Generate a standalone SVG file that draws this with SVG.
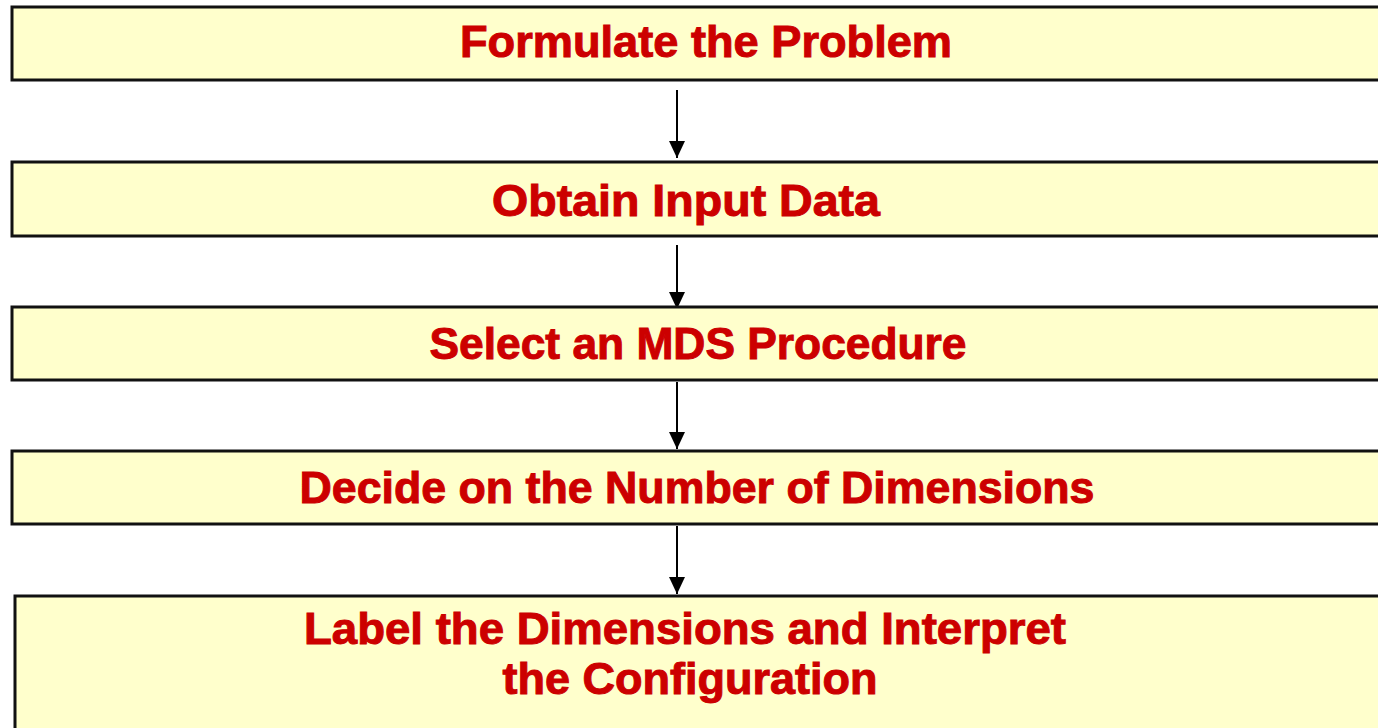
<svg xmlns="http://www.w3.org/2000/svg" width="1378" height="728" viewBox="0 0 1378 728">
  <style>
    .box { fill: #FFFFCC; stroke: #111111; stroke-width: 3; }
    .label { font-family: "Liberation Sans", Arial, sans-serif; font-weight: bold; font-size: 45px; fill: #CC0000; stroke: #CC0000; stroke-width: 1; text-anchor: middle; }
    .link { stroke: #000000; stroke-width: 2; fill: none; marker-end: url(#arrow); }
  </style>
  <defs>
    <marker id="arrow" markerUnits="userSpaceOnUse" viewBox="0 0 18 18" markerWidth="18" markerHeight="18" refX="17" refY="9" orient="auto">
      <path d="M0,1 L17,9 L0,17 Z" fill="#000000"/>
    </marker>
  </defs>
  <rect width="1378" height="728" fill="#FFFFFF"/>

  <g id="connectors">
    <line class="link" x1="677" y1="90" x2="677" y2="158"/>
    <line class="link" x1="677" y1="245" x2="677" y2="309"/>
    <line class="link" x1="677" y1="382" x2="677" y2="449"/>
    <line class="link" x1="677" y1="526" x2="677" y2="594"/>
  </g>

  <g id="formulate">
    <rect class="box" x="12" y="7" width="1380" height="73"/>
    <text class="label" x="706" y="57" textLength="492" lengthAdjust="spacingAndGlyphs">Formulate the Problem</text>
  </g>

  <g id="obtain">
    <rect class="box" x="12" y="162" width="1380" height="74"/>
    <text class="label" x="686" y="216" textLength="388" lengthAdjust="spacingAndGlyphs">Obtain Input Data</text>
  </g>

  <g id="select">
    <rect class="box" x="12" y="307" width="1380" height="73"/>
    <text class="label" x="698" y="359" textLength="537" lengthAdjust="spacingAndGlyphs">Select an MDS Procedure</text>
  </g>

  <g id="decide">
    <rect class="box" x="12" y="451" width="1380" height="73"/>
    <text class="label" x="697" y="503" textLength="795" lengthAdjust="spacingAndGlyphs">Decide on the Number of Dimensions</text>
  </g>

  <g id="label-interpret">
    <rect class="box" x="15" y="596" width="1380" height="140"/>
    <text class="label" x="685" y="644" textLength="762" lengthAdjust="spacingAndGlyphs">Label the Dimensions and Interpret</text>
    <text class="label" x="690" y="694" textLength="375" lengthAdjust="spacingAndGlyphs">the Configuration</text>
  </g>
</svg>
